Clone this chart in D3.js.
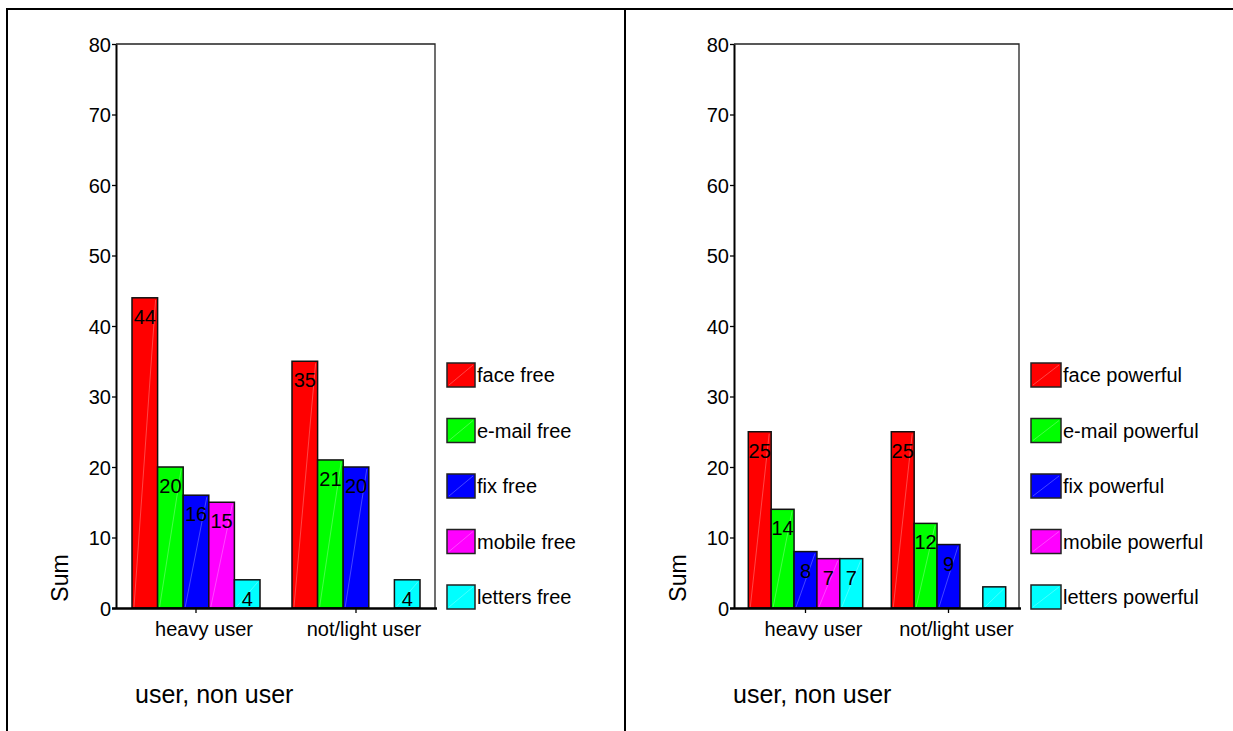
<!DOCTYPE html>
<html>
<head>
<meta charset="utf-8">
<script src="https://cdn.jsdelivr.net/npm/d3@7"></script>
<style>
  html, body { margin: 0; padding: 0; background: #fff; }
  svg { display: block; font-family: "Liberation Sans", Arial, sans-serif; }
</style>
</head>
<body>
<svg id="chart" width="1233" height="731"></svg>
<script>
// Groups along the x axis
const categories = ["heavy user", "not/light user"];
const yTicks = [0, 10, 20, 30, 40, 50, 60, 70, 80];
const seriesColors = ["#ff0000", "#00ff00", "#0000ff", "#ff00ff", "#00ffff"];

// "free" panel
const freeSeries = ["face free", "e-mail free", "fix free", "mobile free", "letters free"];
const freeHeavy = [44, 20, 16, 15, 4];
const freeLight = [35, 21, 20, 0, 4];
const freeHeavyLabels = ["44", "20", "16", "15", "4"];
const freeLightLabels = ["35", "21", "20", null, "4"];

// "powerful" panel
const powerfulSeries = ["face powerful", "e-mail powerful", "fix powerful", "mobile powerful", "letters powerful"];
const powerfulHeavy = [25, 14, 8, 7, 7];
const powerfulLight = [25, 12, 9, 0, 3];
const powerfulHeavyLabels = ["25", "14", "8", "7", "7"];
const powerfulLightLabels = ["25", "12", "9", null, null];

const xTitle = "user, non user";
const yTitle = "Sum";

const svg = d3.select("#chart");

// outer frame: top rule, left rule and the divider between the two panels
svg.append("line").attr("x1", 7).attr("x2", 1233).attr("y1", 9).attr("y2", 9)
  .attr("stroke", "#000").attr("stroke-width", 2);
svg.append("line").attr("x1", 7).attr("x2", 7).attr("y1", 8).attr("y2", 731)
  .attr("stroke", "#000").attr("stroke-width", 2);
svg.append("line").attr("x1", 625).attr("x2", 625).attr("y1", 8).attr("y2", 731)
  .attr("stroke", "#000").attr("stroke-width", 2);

const panels = [
  {
    series: freeSeries,
    values: [freeHeavy, freeLight],
    labels: [freeHeavyLabels, freeLightLabels],
    left: 116, right: 436, top: 44, bottom: 608,
    legendX: 447, swatchW: 28,
    xTitleX: 135, yTitleX: 60
  },
  {
    series: powerfulSeries,
    values: [powerfulHeavy, powerfulLight],
    labels: [powerfulHeavyLabels, powerfulLightLabels],
    left: 734, right: 1020, top: 44, bottom: 608,
    legendX: 1031, swatchW: 30,
    xTitleX: 733, yTitleX: 678
  }
];

panels.forEach(p => {
  const g = svg.append("g");

  const y = d3.scaleLinear().domain([0, 80]).range([p.bottom, p.top]);
  const x = d3.scaleBand().domain(categories).range([p.left, p.right])
    .paddingInner(0.2).paddingOuter(0.1);
  const xs = d3.scaleBand().domain(p.series).range([0, x.bandwidth()]);
  const color = d3.scaleOrdinal().domain(p.series).range(seriesColors);

  // plot frame (top and right edges)
  g.append("path")
    .attr("d", `M${p.left},${p.top}H${p.right - 1}V${p.bottom}`)
    .attr("fill", "none").attr("stroke", "#222").attr("stroke-width", 1.3);

  // bars
  categories.forEach((cat, ci) => {
    const cg = g.append("g").attr("transform", `translate(${x(cat)},0)`);
    const rows = p.series.map((s, si) => ({
      s, v: p.values[ci][si], label: p.labels[ci][si]
    }));
    cg.selectAll("rect.bar").data(rows).join("rect")
      .attr("class", "bar")
      .attr("x", d => xs(d.s))
      .attr("y", d => y(d.v))
      .attr("width", xs.bandwidth())
      .attr("height", d => y(0) - y(d.v))
      .attr("fill", d => color(d.s))
      .attr("stroke", "#111").attr("stroke-width", 1.5);
    // faint diagonal sheen across each bar
    cg.selectAll("line.sheen").data(rows.filter(d => d.v > 0)).join("line")
      .attr("class", "sheen")
      .attr("x1", d => xs(d.s) + 2).attr("y1", y(0) - 1)
      .attr("x2", d => xs(d.s) + xs.bandwidth() - 2).attr("y2", d => y(d.v) + 2)
      .attr("stroke", "#fff").attr("stroke-opacity", 0.35).attr("stroke-width", 0.8);
    cg.selectAll("text.val").data(rows.filter(d => d.label != null)).join("text")
      .attr("class", "val")
      .attr("x", d => xs(d.s) + xs.bandwidth() / 2)
      .attr("y", d => y(d.v) + 26)
      .attr("text-anchor", "middle")
      .attr("font-size", 20)
      .attr("fill", "#000")
      .text(d => d.label);
  });

  // y axis
  const yAxis = g.append("g").attr("transform", `translate(${p.left},0)`)
    .call(d3.axisLeft(y).tickValues(yTicks).tickSize(4).tickPadding(1).tickSizeOuter(0));
  yAxis.select(".domain").attr("stroke", "#000").attr("stroke-width", 2);
  yAxis.selectAll(".tick line").attr("stroke", "#000").attr("stroke-width", 1.3);
  yAxis.selectAll(".tick text").attr("font-size", 20).attr("fill", "#000")
    .attr("font-family", "Liberation Sans, Arial, sans-serif").attr("dy", "0.36em");

  // x axis
  const xAxis = g.append("g").attr("transform", `translate(0,${p.bottom})`)
    .call(d3.axisBottom(x).tickSize(5).tickPadding(9).tickSizeOuter(0));
  xAxis.select(".domain").attr("d", `M${p.left - 4},0.5H${p.right + 1}`)
    .attr("stroke", "#000").attr("stroke-width", 2.5);
  xAxis.selectAll(".tick line").attr("stroke", "#000").attr("stroke-width", 1.3);
  xAxis.selectAll(".tick text").attr("font-size", 20).attr("fill", "#000")
    .attr("font-family", "Liberation Sans, Arial, sans-serif").attr("dx", 8);

  // axis titles
  g.append("text")
    .attr("transform", `translate(${p.yTitleX + 8},${578}) rotate(-90)`)
    .attr("text-anchor", "middle").attr("font-size", 23).attr("fill", "#000")
    .text(yTitle);
  g.append("text")
    .attr("x", p.xTitleX).attr("y", 703)
    .attr("font-size", 25).attr("fill", "#000")
    .text(xTitle);

  // legend
  const ly = d3.scalePoint().domain(p.series).range([375, 597]);
  const lg = g.append("g");
  const item = lg.selectAll("g").data(p.series).join("g")
    .attr("transform", d => `translate(${p.legendX},${ly(d)})`);
  item.append("rect")
    .attr("x", 0).attr("y", -12).attr("width", p.swatchW).attr("height", 24)
    .attr("fill", d => color(d)).attr("stroke", "#222").attr("stroke-width", 1.5);
  item.append("line")
    .attr("x1", 2).attr("y1", 10).attr("x2", p.swatchW - 2).attr("y2", -10)
    .attr("stroke", "#fff").attr("stroke-opacity", 0.35).attr("stroke-width", 0.8);
  item.append("text")
    .attr("x", p.swatchW + 2).attr("y", 0).attr("dy", "0.36em")
    .attr("font-size", 20).attr("fill", "#000")
    .text(d => d);
});
</script>
</body>
</html>
